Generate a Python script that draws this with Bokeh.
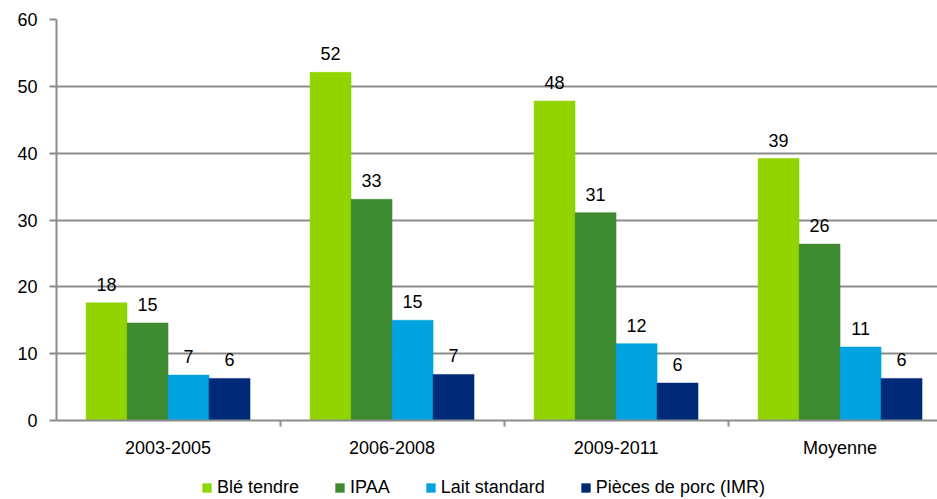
from bokeh.plotting import figure
from bokeh.layouts import column
from bokeh.models import (ColumnDataSource, Range1d, FixedTicker, Legend, LegendItem, LabelSet)
from bokeh.core.properties import value
from bokeh.transform import dodge
from bokeh.embed import file_html
from bokeh.resources import INLINE

# ---- data ----
categories = ["2003-2005", "2006-2008", "2009-2011", "Moyenne"]
series_names = ["Blé tendre", "IPAA", "Lait standard", "Pièces de porc (IMR)"]
ble_tendre = [17.6, 52.1, 47.8, 39.2]
ipaa = [14.6, 33.1, 31.1, 26.4]
lait_standard = [6.8, 15.0, 11.5, 11.0]
pieces_porc = [6.3, 6.9, 5.6, 6.3]
ble_labels = ["18", "52", "48", "39"]
ipaa_labels = ["15", "33", "31", "26"]
lait_labels = ["7", "15", "12", "11"]
porc_labels = ["6", "7", "6", "6"]
y_ticks = [0, 10, 20, 30, 40, 50, 60]

series_values = [ble_tendre, ipaa, lait_standard, pieces_porc]
series_labels = [ble_labels, ipaa_labels, lait_labels, porc_labels]
colors = ["#92D400", "#3E8A31", "#00A2E0", "#002A78"]

FONT = "Liberation Sans"
GRAY = "#8c8c8c"
bar_w = 0.183
centers = [i + 0.5 for i in range(len(categories))]

p = figure(width=937, height=460, output_backend="svg", toolbar_location=None,
           x_range=Range1d(0.002, 3.935), y_range=Range1d(0, 60),
           min_border_left=56, min_border_right=0, min_border_top=19,
           min_border_bottom=39)
p.outline_line_color = None
p.background_fill_color = "white"
p.border_fill_color = "white"

# ---- legend strip (separate figure under the chart; its bars lie far outside its view) ----
lg = figure(width=937, height=39, output_backend="svg", toolbar_location=None,
            x_range=Range1d(0, 1), y_range=Range1d(1000, 1001),
            x_axis_type=None, y_axis_type=None, min_border=0)
lg.outline_line_color = None
lg.xgrid.grid_line_color = None
lg.ygrid.grid_line_color = None

items = []
for j, (vals, labs, col, name) in enumerate(zip(series_values, series_labels, colors, series_names)):
    src = ColumnDataSource(dict(x=centers, top=vals, label=labs))
    off = (j - 1.5) * bar_w
    p.vbar(x=dodge("x", off), top="top", width=bar_w, bottom=0, source=src,
           fill_color=col, line_color=col, line_width=0.5)
    ls = LabelSet(x=dodge("x", off), y="top", text="label", source=src,
                  text_align="center", text_baseline="alphabetic", y_offset=12,
                  text_font=value(FONT), text_font_size=value("18px"), text_color="black")
    p.add_layout(ls)
    r = lg.vbar(x=dodge("x", off), top="top", width=bar_w, bottom=0, source=src,
                fill_color=col, line_color=col, line_width=0.5)
    items.append(LegendItem(label=name, renderers=[r]))

# y axis
p.yaxis.ticker = FixedTicker(ticks=y_ticks)
p.yaxis.axis_line_color = GRAY
p.yaxis.axis_line_width = 2
p.yaxis.major_tick_line_color = GRAY
p.yaxis.major_tick_line_width = 2
p.yaxis.major_tick_out = 7
p.yaxis.major_tick_in = 0
p.yaxis.minor_tick_line_color = None
p.yaxis.major_label_standoff = 12
p.yaxis.major_label_text_font = FONT
p.yaxis.major_label_text_font_size = "18px"
p.yaxis.major_label_text_color = "black"

# x axis: labels at group centres, ticks at group boundaries
p.xaxis.ticker = FixedTicker(ticks=centers, minor_ticks=list(range(len(categories) + 1)))
p.xaxis.major_label_overrides = {c: cat for c, cat in zip(centers, categories)}
p.xaxis.axis_line_color = GRAY
p.xaxis.axis_line_width = 2
p.xaxis.major_tick_line_color = None
p.xaxis.major_tick_out = 6
p.xaxis.major_tick_in = 0
p.xaxis.minor_tick_line_color = GRAY
p.xaxis.minor_tick_line_width = 2
p.xaxis.minor_tick_out = 6
p.xaxis.minor_tick_in = 0
p.xaxis.major_label_standoff = 11
p.xaxis.major_label_text_font = FONT
p.xaxis.major_label_text_font_size = "18px"
p.xaxis.major_label_text_color = "black"

p.xgrid.grid_line_color = None
p.ygrid.grid_line_color = GRAY
p.ygrid.grid_line_width = 2

legend = Legend(items=items, orientation="horizontal", location=(145, 1),
                glyph_width=11, glyph_height=11, label_standoff=5, spacing=35,
                padding=0, margin=0, border_line_color=None,
                background_fill_alpha=0, label_text_font=FONT,
                label_text_font_size="18px", label_text_color="black",
                label_height=20)
lg.add_layout(legend, "center")

layout = column(p, lg, spacing=0)
open("out.html", "w").write(file_html(layout, INLINE))
